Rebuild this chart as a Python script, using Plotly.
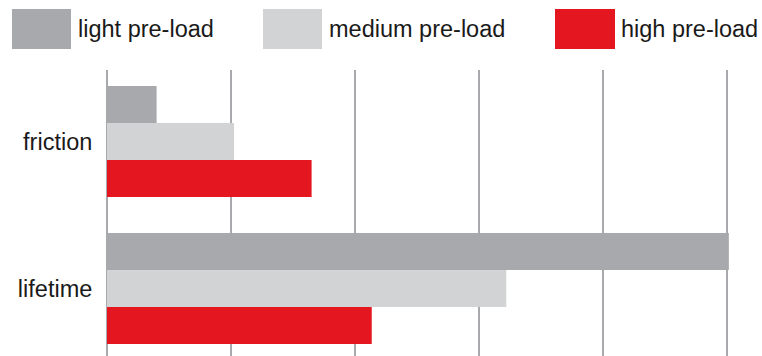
import plotly.graph_objects as go

categories = ["friction", "lifetime"]
series_names = ["light pre-load", "medium pre-load", "high pre-load"]
light_vals = [8, 100.3]
medium_vals = [20.5, 64.4]
high_vals = [33, 42.7]
colors = ["#A7A9AC", "#D1D3D4", "#E4161F"]

W, H = 762, 356
ML, MR, MT, MB = 107, 29, 70, 0
PW, PH = W - ML - MR, H - MT - MB


def px_x(p):
    return (p - ML) / PW


def px_y(p):
    return (H - MB - p) / PH


fig = go.Figure()
for name, vals, col in zip(series_names, [light_vals, medium_vals, high_vals], colors):
    fig.add_trace(go.Bar(
        y=categories, x=vals, name=name, orientation="h",
        marker=dict(color=col, line=dict(width=0)),
        showlegend=False, hoverinfo="x+y",
    ))

# custom legend (large swatches)
swatches = [(12, 71, 77), (263, 322, 328), (555, 615, 620)]
for (x0, x1, tx), name, col in zip(swatches, series_names, colors):
    fig.add_shape(type="rect", xref="paper", yref="paper",
                  x0=px_x(x0), x1=px_x(x1), y0=px_y(49), y1=px_y(9),
                  fillcolor=col, line=dict(width=0), layer="above")
    fig.add_annotation(xref="paper", yref="paper", x=px_x(tx), y=px_y(29),
                       xanchor="left", yanchor="middle", text=name, showarrow=False,
                       font=dict(family="Liberation Sans, Arial", size=23.5, color="#1a1a1a"),
                       borderpad=0)

xmax = PW / 6.2
fig.update_layout(
    width=W, height=H,
    margin=dict(l=ML, r=MR, t=MT, b=MB, pad=0),
    paper_bgcolor="white", plot_bgcolor="white",
    barmode="group", bargap=0.245, bargroupgap=0,
    font=dict(family="Liberation Sans, Arial", size=23.5, color="#1a1a1a"),
    xaxis=dict(range=[0, xmax], tick0=0, dtick=20, showgrid=True,
               gridcolor="#A7A9AC", gridwidth=2, showticklabels=False,
               zeroline=True, zerolinecolor="#A7A9AC", zerolinewidth=2,
               showline=False, ticks=""),
    yaxis=dict(categoryorder="array", categoryarray=categories,
               range=[1.459, -0.486], showgrid=False, zeroline=False,
               showline=False, ticks="outside", ticklen=0, tickcolor="white",
               ticklabelstandoff=9,
               tickfont=dict(family="Liberation Sans, Arial", size=23.5, color="#1a1a1a")),
)

fig.write_html("out.html")
